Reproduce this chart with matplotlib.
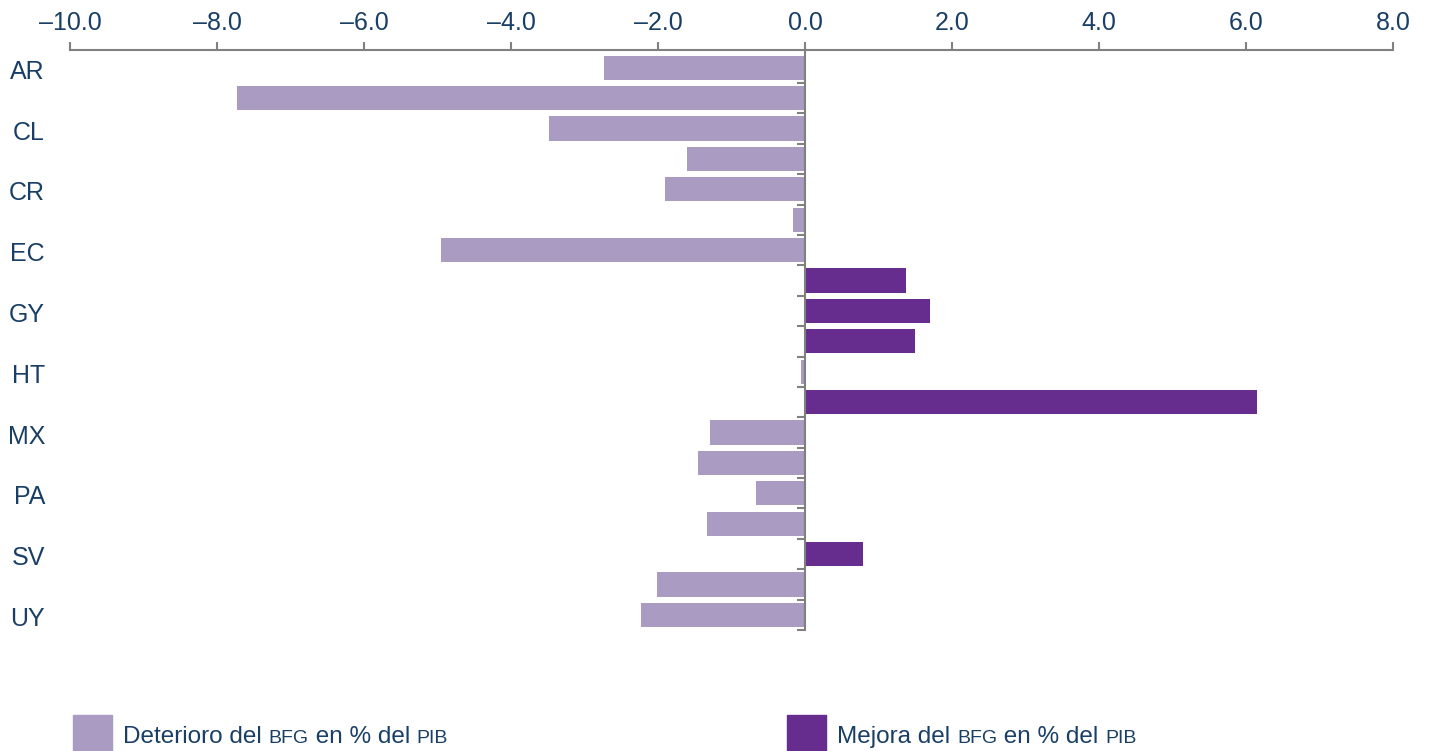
import matplotlib
matplotlib.use("Agg")
import matplotlib.pyplot as plt
from matplotlib.patches import Rectangle
from matplotlib.offsetbox import TextArea, HPacker, AnchoredOffsetbox
from matplotlib.ticker import FuncFormatter

plt.rcParams['font.family'] = ['Liberation Sans', 'DejaVu Sans']

# data (change in fiscal balance, % of GDP)
countries = ["AR", "BO", "CL", "CO", "CR", "DO", "EC", "GT", "GY", "HN",
             "HT", "JM", "MX", "NI", "PA", "PE", "SV", "PY", "UY"]
shown = ["AR", "CL", "CR", "EC", "GY", "HT", "MX", "PA", "SV", "UY"]
values = [-2.73, -7.73, -3.48, -1.61, -1.90, -0.16, -4.95, 1.37, 1.70, 1.50,
          -0.05, 6.15, -1.29, -1.46, -0.67, -1.33, 0.79, -2.01, -2.23]
xticks = [-10, -8, -6, -4, -2, 0, 2, 4, 6, 8]

light = "#a99bc1"
dark = "#662d8f"
txt = "#1a3f66"
grey = "#808080"

fig = plt.figure(figsize=(14.29, 7.51), dpi=100)
ax = fig.add_axes([0.049, 0.161, 0.9258, 0.7723])

pos = list(range(len(countries)))
colors = [dark if v > 0 else light for v in values]
ax.barh(pos, values, height=0.8, color=colors, zorder=2)

ax.set_xlim(-10, 8)
ax.set_ylim(len(countries) - 0.5, -0.58)

# top axis
ax.xaxis.tick_top()
ax.set_xticks(xticks)
ax.xaxis.set_major_formatter(FuncFormatter(lambda v, p: ("%.1f" % v).replace("-", "\u2013")))
ax.tick_params(axis='x', direction='out', length=6, width=1.5, color=grey,
               labelsize=18, labelcolor=txt, pad=5)

# zero line spine with ticks at category boundaries
ax.spines['left'].set_position(('data', 0))
ax.spines['right'].set_visible(False)
ax.spines['bottom'].set_visible(False)
for s in ['left', 'top']:
    ax.spines[s].set_color(grey)
    ax.spines[s].set_linewidth(1.5)
ax.set_yticks([p + 0.5 for p in pos])
ax.set_yticklabels([])
ax.tick_params(axis='y', direction='out', length=6, width=1.5, color=grey)

trans = ax.get_yaxis_transform()
for p, c in zip(pos, countries):
    if c in shown:
        ax.text(-0.019, p + 0.05, c, transform=trans, ha='right', va='center_baseline',
                fontsize=18, color=txt)

# legend with small caps acronyms
big = dict(fontsize=17.5, color=txt)
small = dict(fontsize=14, color=txt)

def legend_entry(x, color, parts):
    fig.patches.append(Rectangle((x, 0.0), 0.0273, 0.048, transform=fig.transFigure,
                                 color=color, figure=fig))
    box = HPacker(children=[TextArea(t, textprops=(small if sc else big)) for t, sc in parts],
                  align="baseline", pad=0, sep=0)
    anc = AnchoredOffsetbox(loc='lower left', child=box, pad=0, frameon=False,
                            bbox_to_anchor=(x + 0.035, 0.004), bbox_transform=fig.transFigure,
                            borderpad=0)
    fig.add_artist(anc)

legend_entry(0.051, light, [("Deterioro del ", False), ("BFG", True),
                            (" en % del ", False), ("PIB", True)])
legend_entry(0.551, dark, [("Mejora del ", False), ("BFG", True),
                           (" en % del ", False), ("PIB", True)])

fig.savefig("out.png", dpi=100)
